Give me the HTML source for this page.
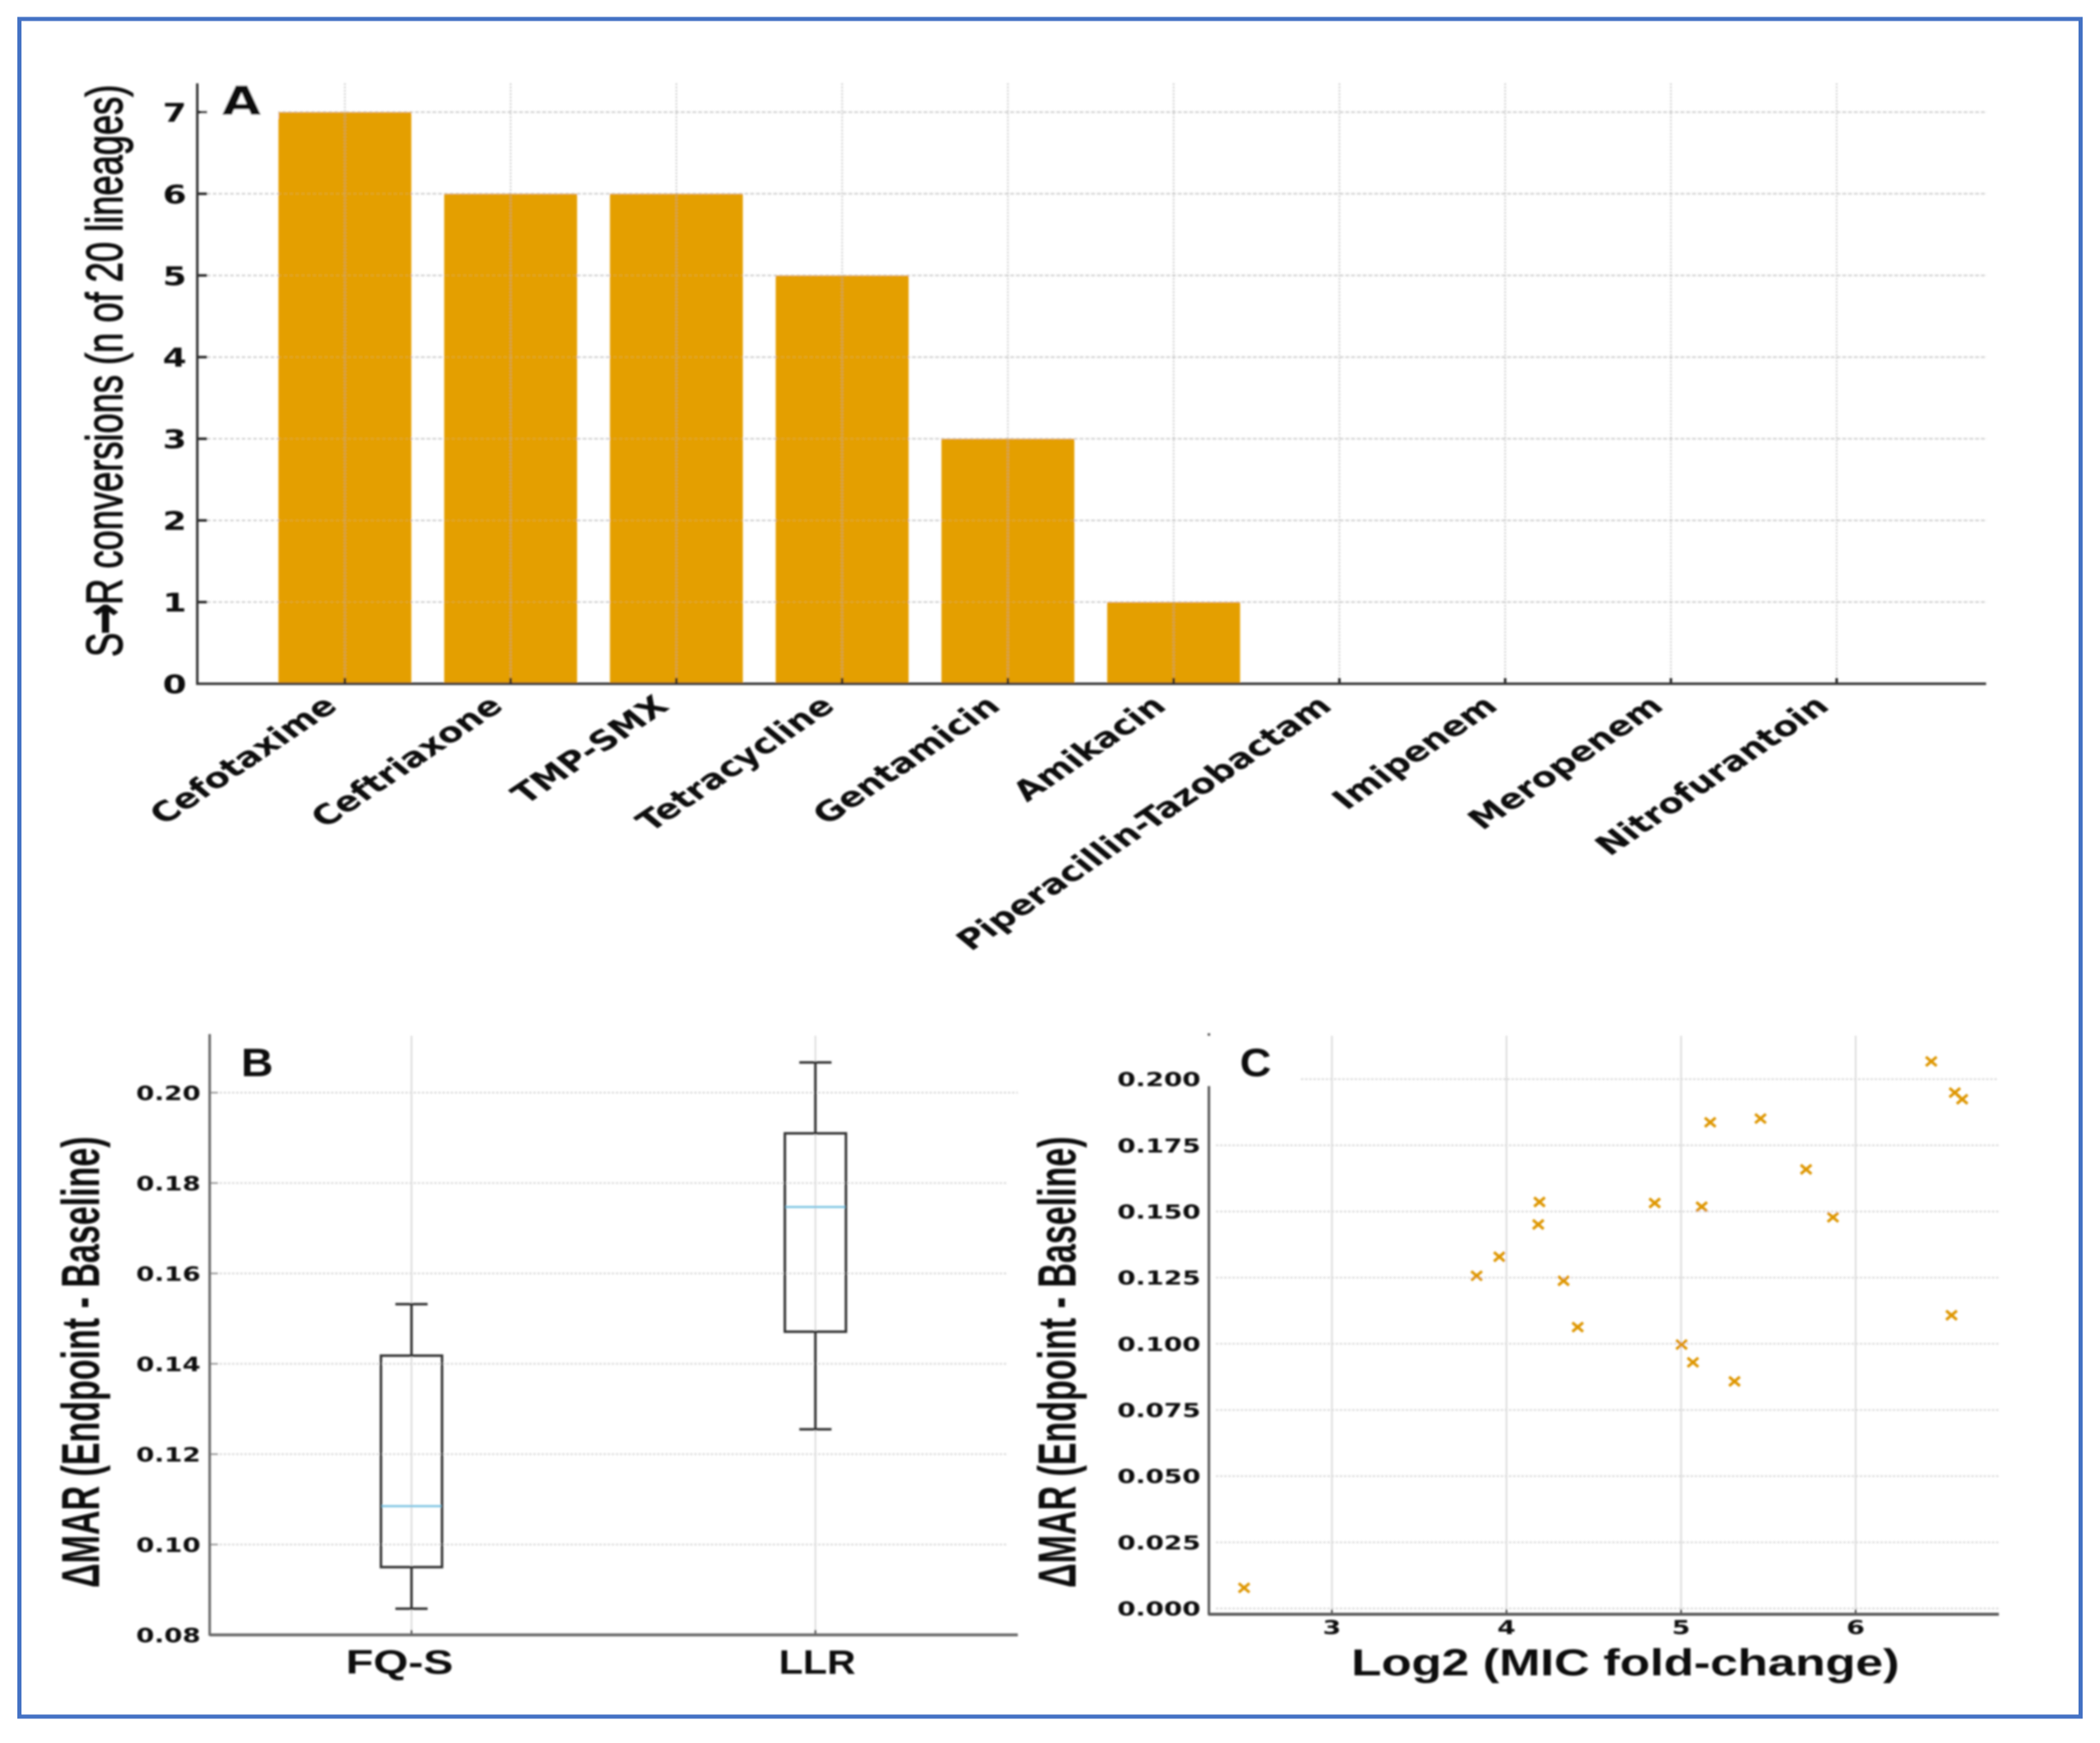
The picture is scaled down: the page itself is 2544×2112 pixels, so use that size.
<!DOCTYPE html>
<html lang="en">
<head>
<meta charset="utf-8">
<title>Antibiotic resistance conversions and MAR change</title>
<style>
  html, body { margin: 0; padding: 0; background: #ffffff; }
  body { width: 2544px; height: 2112px; overflow: hidden; }
  svg { display: block; }
  text { fill: #111111; }
  .dv { font-family: "DejaVu Sans", "Liberation Sans", sans-serif; font-weight: 700; }
  .ls { font-family: "Liberation Sans", "DejaVu Sans", sans-serif; }
  .grid { stroke: #cfcfcf; stroke-width: 2; stroke-dasharray: 4 3; fill: none; }
  .gridlight { stroke: #d9d9d9; stroke-width: 2; stroke-dasharray: 3 2; fill: none; }
  .vgrid { stroke: #aaaaaa; stroke-opacity: 0.6; stroke-width: 2; stroke-dasharray: 2 2; fill: none; }
  .vgridlight { stroke: #dcdcdc; stroke-width: 2; fill: none; }
</style>
</head>
<body>
<svg id="figure" xmlns="http://www.w3.org/2000/svg" width="2544" height="2112" viewBox="0 0 2544 2112">
  <defs>
    <filter id="soft" x="-2%" y="-2%" width="104%" height="104%"><feGaussianBlur stdDeviation="1"/></filter>
  </defs>
  <rect x="0" y="0" width="2544" height="2112" fill="#ffffff"/>
  <rect x="23.5" y="23" width="2497" height="2057" fill="none" stroke="#4472C4" stroke-width="5"/>
  <g id="plots" filter="url(#soft)">
    <g id="panelA">
      <text class="ls" font-size="62" stroke="#111" stroke-width="1.3" transform="translate(148,796) rotate(-90) scale(0.709,1)">S<tspan font-family="DejaVu Sans" font-weight="700" font-size="64" dx="-3">→</tspan><tspan dx="-3">R conversions (n of 20 lineages)</tspan></text>
    </g>
    <g id="panelB">
      <text class="ls" font-weight="700" font-size="65" textLength="547" lengthAdjust="spacingAndGlyphs" transform="translate(120,1924) rotate(-90)">ΔMAR (Endpoint - Baseline)</text>
      <text class="ls" font-weight="700" font-size="48" textLength="39" lengthAdjust="spacingAndGlyphs" x="292" y="1304">B</text>
    </g>
    <g id="panelC">
      <text class="ls" font-weight="700" font-size="65" textLength="547" lengthAdjust="spacingAndGlyphs" transform="translate(1303,1924) rotate(-90)">ΔMAR (Endpoint - Baseline)</text>
      <text class="ls" font-weight="700" font-size="48" textLength="38" lengthAdjust="spacingAndGlyphs" x="1502" y="1304">C</text>
      <text class="ls" font-weight="700" font-size="45" textLength="664" lengthAdjust="spacingAndGlyphs" x="1637" y="2030">Log2 (MIC fold-change)</text>
    </g>
  </g>
</svg>
<script>
// ---- Panel A data ----
const drugCategories = ["Cefotaxime", "Ceftriaxone", "TMP-SMX", "Tetracycline", "Gentamicin", "Amikacin", "Piperacillin-Tazobactam", "Imipenem", "Meropenem", "Nitrofurantoin"];
const conversionCounts = [7, 6, 6, 5, 3, 1, 0, 0, 0, 0];
const barTickLabels = [0, 1, 2, 3, 4, 5, 6, 7];

// ---- Panel B data ----
const boxGroups = ["FQ-S", "LLR"];
const boxWhiskerLow = [0.0858, 0.1255];
const boxQ1 = [0.0950, 0.1471];
const boxMedian = [0.1085, 0.1747];
const boxQ3 = [0.1418, 0.1910];
const boxWhiskerHigh = [0.1532, 0.2067];
const boxTickLabels = ["0.08", "0.10", "0.12", "0.14", "0.16", "0.18", "0.20"];

// ---- Panel C data ----
const micFoldChange = [2.497, 3.829, 3.959, 4.182, 4.189, 4.327, 4.408, 4.849, 5.003, 5.068, 5.118, 5.167, 5.306, 5.455, 5.716, 5.870, 6.433, 6.549, 6.568, 6.610];
const deltaMar = [0.0078, 0.1257, 0.1329, 0.1451, 0.1536, 0.1238, 0.1063, 0.1532, 0.0997, 0.0930, 0.1518, 0.1837, 0.0858, 0.1851, 0.1659, 0.1478, 0.2067, 0.1108, 0.1949, 0.1924];
const scatterXTickLabels = ["3", "4", "5", "6"];
const scatterYTickLabels = ["0.000", "0.025", "0.050", "0.075", "0.100", "0.125", "0.150", "0.175", "0.200"];

const NS = "http://www.w3.org/2000/svg";
const panelA = document.getElementById("panelA");
const panelB = document.getElementById("panelB");
const panelC = document.getElementById("panelC");

function mk(tag, parent, attrs) {
  const node = document.createElementNS(NS, tag);
  for (const k in attrs) node.setAttribute(k, attrs[k]);
  parent.appendChild(node);
  return node;
}
function line(parent, x1, y1, x2, y2, stroke, width) {
  return mk("line", parent, { x1: x1, y1: y1, x2: x2, y2: y2, stroke: stroke, "stroke-width": width });
}
function gridLine(parent, x1, y1, x2, y2, cls) {
  return mk("line", parent, { x1: x1, y1: y1, x2: x2, y2: y2, class: cls });
}
function wideText(parent, str, x, y, size, sx, anchor, rot) {
  const node = mk("text", parent, {
    class: "dv",
    "font-size": size,
    "text-anchor": anchor,
    transform: "translate(" + x + "," + y + ") scale(" + sx + ",1)" + (rot ? " rotate(" + rot + ")" : "")
  });
  node.textContent = str;
  return node;
}

// ---- Axis functions ----
const xA = i => 417.8 + i * 200.8;
const yA = v => 828.5 - v * 98.95;
const xB = i => 498.5 + i * 489.3;
const yB = v => 1981 - (v - 0.08) * 5475;
const xC = v => 1613.5 + (v - 3) * 211.5;
const yC = v => 1949 - v * 3207;

// ==== Panel A ====
barTickLabels.forEach(function (t) {
  if (t > 0) {
    const g = gridLine(panelA, 251, yA(t), 2406, yA(t), "grid");
    
    
  }
});
const letterMask = mk("rect", panelA, { x: 244, y: 101, width: 93, height: 42, fill: "#ffffff" });


const letterA = wideText(panelA, "A", 269, 139, 48, 1.27, "start", 0);


conversionCounts.forEach(function (v, i) {
  const bar = mk("rect", panelA, { x: xA(i) - 80.5, y: yA(v), width: 161, height: yA(0) - yA(v), fill: "#E49F02" });
  
  
});
barTickLabels.forEach(function (t) {
  if (t > 0) {
    const g = line(panelA, 337, yA(t), 2406, yA(t), "#c9c9c9", 2);
    g.setAttribute("stroke-dasharray", "4 3");
    g.setAttribute("stroke-opacity", "0.2");
    
    
  }
  const tick = line(panelA, 239, yA(t), 251, yA(t), "#222", 3);
  
  
  const lab = wideText(panelA, String(t), 226, yA(t) + 11.5, 31, 1.34, "end", 0);
  
  
});
drugCategories.forEach(function (c, i) {
  const g = gridLine(panelA, xA(i), 101, xA(i), yA(0), "vgrid");
  
  
  const tick = line(panelA, xA(i), yA(0) - 7, xA(i), yA(0), "#222", 3);
  
  
  const lab = wideText(panelA, c, xA(i) - 7, 858, 33.3, 1.34, "end", -42);
  
  
});
const spineAL = line(panelA, 239, 101, 239, 830, "#333", 3);


const spineAB = line(panelA, 238, yA(0), 2406, yA(0), "#333", 3);



// ==== Panel B ====
boxTickLabels.forEach(function (t) {
  const v = parseFloat(t);
  if (v > 0.08) {
    const g = gridLine(panelB, 266, yB(v), v >= 0.2 ? 1233 : 1221, yB(v), "gridlight");
    
    
    const tick = line(panelB, 254, yB(v), 264, yB(v), "#999", 2);
    
    
  }
  const lab = wideText(panelB, t, 243, yB(v) + 9, 24, 1.32, "end", 0);
  
  
});
boxGroups.forEach(function (name, i) {
  const cx = xB(i);
  const g = gridLine(panelB, cx, 1255, cx, 1981, "vgridlight");
  
  
  const wl = line(panelB, cx, yB(boxWhiskerLow[i]), cx, yB(boxQ1[i]), "#333", 3);
  
  
  const wh = line(panelB, cx, yB(boxQ3[i]), cx, yB(boxWhiskerHigh[i]), "#333", 3);
  
  
  const cl = line(panelB, cx - 19.5, yB(boxWhiskerLow[i]), cx + 19.5, yB(boxWhiskerLow[i]), "#333", 3);
  
  
  const ch = line(panelB, cx - 19.5, yB(boxWhiskerHigh[i]), cx + 19.5, yB(boxWhiskerHigh[i]), "#333", 3);
  
  
  const box = mk("rect", panelB, { x: cx - 37, y: yB(boxQ3[i]), width: 74, height: yB(boxQ1[i]) - yB(boxQ3[i]), fill: "none", stroke: "#333", "stroke-width": 3 });
  
  
  const med = line(panelB, cx - 36, yB(boxMedian[i]), cx + 36, yB(boxMedian[i]), "#7CC3E2", 2.5);
  
  
  const tick = line(panelB, cx, 1975, cx, 1981, "#444", 2);
  
  
  const lab = mk("text", panelB, { class: "ls", "font-weight": 700, "font-size": 41, "text-anchor": "middle", x: i === 0 ? 484 : 990, y: 2028, textLength: i === 0 ? 130 : 93, lengthAdjust: "spacingAndGlyphs" });
  lab.textContent = name;
  
  
});
const spineBL = line(panelB, 254, 1253, 254, 1982, "#666", 3);


const spineBB = line(panelB, 254, 1981, 1233, 1981, "#666", 3.5);



// ==== Panel C ====
scatterYTickLabels.forEach(function (t) {
  const v = parseFloat(t);
  const g = gridLine(panelC, v >= 0.2 ? 1576 : 1473, yC(v), 2421, yC(v), "gridlight");
  
  
  const lab = wideText(panelC, t, 1454.5, yC(v) + 8.5, 23, 1.39, "end", 0);
  
  
});
scatterXTickLabels.forEach(function (t) {
  const v = parseFloat(t);
  const g = gridLine(panelC, xC(v), 1255, xC(v), 1956, "vgridlight");
  
  
  const tick = line(panelC, xC(v), 1950, xC(v), 1956, "#444", 2);
  
  
  const lab = wideText(panelC, t, xC(v), 1980, 23, 1.39, "middle", 0);
  
  
});
micFoldChange.forEach(function (mx, i) {
  const px = xC(mx);
  const py = yC(deltaMar[i]);
  const marker = mk("path", panelC, {
    d: "M" + (px - 6.5) + " " + (py - 5.5) + "L" + (px + 6.5) + " " + (py + 5.5) + "M" + (px - 6.5) + " " + (py + 5.5) + "L" + (px + 6.5) + " " + (py - 5.5),
    stroke: "#DE9606", "stroke-width": 3.4, fill: "none"
  });
  
  
});
const spineCL = line(panelC, 1464.5, 1316, 1464.5, 1957, "#555", 3);


const spineCB = line(panelC, 1464, 1956, 2421.5, 1956, "#555", 3.5);


const speck = line(panelC, 1464.5, 1252, 1464.5, 1255, "#555", 3);


</script>
</body>
</html>
